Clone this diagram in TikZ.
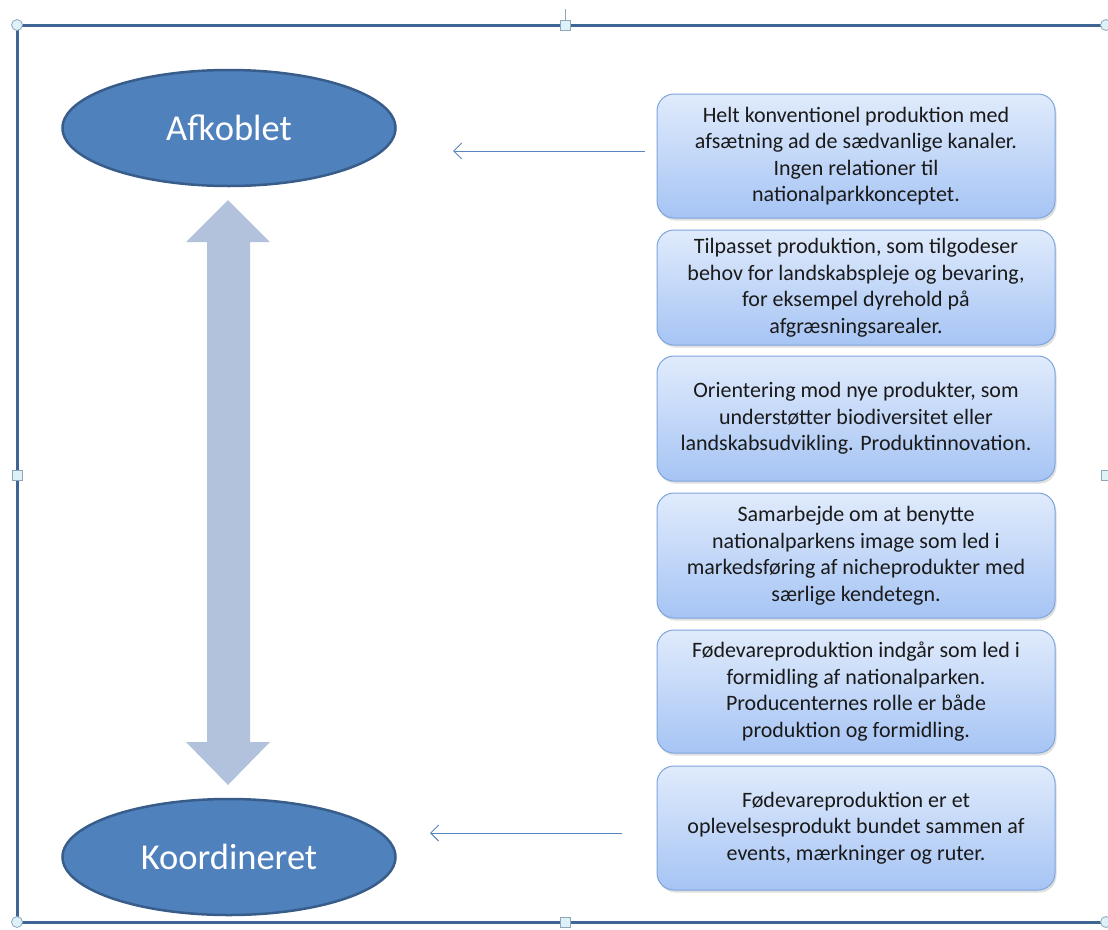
\documentclass[tikz,border=0pt]{standalone}
\usepackage{fontspec}
\setmainfont{Carlito}
\usetikzlibrary{shapes.geometric,shadows,arrows.meta}
\definecolor{framec}{HTML}{3F6596}
\definecolor{ellfill}{HTML}{4F81BD}
\definecolor{elldraw}{HTML}{385D8A}
\definecolor{boxtop}{HTML}{E0EBFC}
\definecolor{boxbot}{HTML}{A6C4F4}
\definecolor{boxdraw}{HTML}{7FA5DC}
\definecolor{dblarrow}{HTML}{B2C2DD}
\definecolor{conn}{HTML}{5A86C0}
\definecolor{handlefill}{HTML}{DDF2F8}
\definecolor{handledraw}{HTML}{8FA6B8}
\definecolor{txt}{HTML}{1A1A1A}
\begin{document}
\begin{tikzpicture}[x=1pt,y=-1pt,
  oval/.style={ellipse, draw=elldraw, line width=2.5pt, fill=ellfill, minimum width=333pt, minimum height=116pt, inner sep=0pt, text=white, font=\fontsize{36.5}{40}\selectfont},
  infobox/.style={rounded corners=17pt, draw=boxdraw, line width=1pt, top color=boxtop, bottom color=boxbot, minimum width=398pt, align=center, text=txt, font=\fontsize{22}{26.5}\selectfont, inner sep=0pt, drop shadow={shadow xshift=1.5pt, shadow yshift=-2.5pt, opacity=0.25}},
  connarrow/.style={conn, line width=1pt, -{Straight Barb[length=8pt,width=16pt]}},
  handlec/.style={circle, draw=handledraw, fill=handlefill, line width=0.8pt, minimum size=11pt, inner sep=0pt},
  handles/.style={rectangle, draw=handledraw, fill=handlefill, line width=0.8pt, minimum size=10pt, inner sep=0pt},
  frameline/.style={framec, line width=3pt}
]
\useasboundingbox (0,0) rectangle (1108,929);
% frame
\coordinate (ftl) at (17,25);
\coordinate (ftr) at (1108,25);
\coordinate (fbl) at (17,922);
\coordinate (fbr) at (1108,922);
\draw[frameline] (ftr) -- (ftl) -- (fbl) -- (fbr);
\draw[handledraw, line width=0.8pt] (565,25) -- (565,9);
\node[handlec] (h1) at (17,25) {};
\node[handlec] (h2) at (17,922) {};
\node[handlec] (h3) at (1106,25) {};
\node[handlec] (h4) at (1106,922) {};
\node[handles] (s1) at (565,25) {};
\node[handles] (s2) at (17,475) {};
\node[handles] (s3) at (565,922) {};
\node[handles] (s4) at (1106,475) {};

% ellipses
\node[oval] (afk) at (229,128) {Afkoblet};
\node[oval] (koo) at (229,857) {Koordineret};

% double arrow
\fill[dblarrow] (228,200) -- (270,242) -- (250,242) -- (250,742) -- (270,742) -- (228,785) -- (186,742) -- (207,742) -- (207,242) -- (186,242) -- cycle;

% boxes
\node[infobox, minimum height=124pt] (b1) at (856,156) {Helt konventionel produktion med\\afsætning ad de sædvanlige kanaler.\\Ingen relationer til\\nationalparkkonceptet.};
\node[infobox, minimum height=115pt] (b2) at (856,287.5) {Tilpasset produktion, som tilgodeser\\behov for landskabspleje og bevaring,\\for eksempel dyrehold på\\afgræsningsarealer.};
\node[infobox, minimum height=125pt] (b3) at (856,418.5) {Orientering mod nye produkter, som\\understøtter biodiversitet eller\\landskabsudvikling. Produktinnovation.};
\node[infobox, minimum height=125pt] (b4) at (856,555.5) {Samarbejde om at benytte\\nationalparkens image som led i\\markedsføring af nicheprodukter med\\særlige kendetegn.};
\node[infobox, minimum height=123pt] (b5) at (856,691.5) {Fødevareproduktion indgår som led i\\formidling af nationalparken.\\Producenternes rolle er både\\produktion og formidling.};
\node[infobox, minimum height=124pt] (b6) at (856,828) {Fødevareproduktion er et\\oplevelsesprodukt bundet sammen af\\events, mærkninger og ruter.};

% connectors
\coordinate (c1s) at (645,151);
\coordinate (c1e) at (453,151);
\coordinate (c2s) at (622,833);
\coordinate (c2e) at (430,833);
\draw[connarrow] (c1s) -- (c1e);
\draw[connarrow] (c2s) -- (c2e);
\end{tikzpicture}
\end{document}
